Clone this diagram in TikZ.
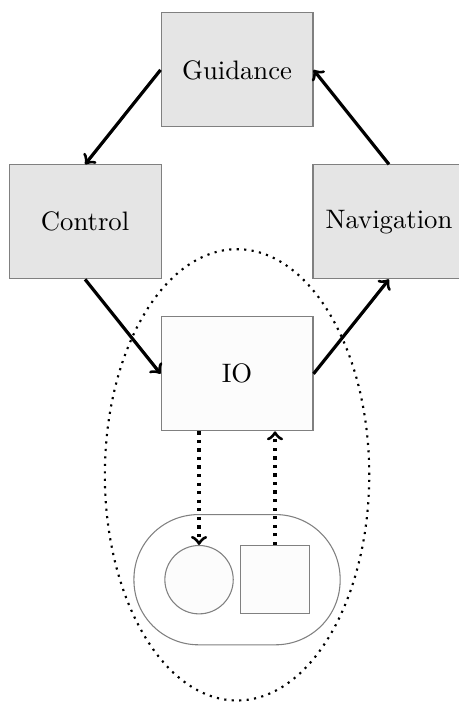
\documentclass[tikz,border=0pt]{standalone}
\usepackage{xcolor}
\usepackage{tikz}
\usetikzlibrary{shapes, arrows, positioning, fit}

\begin{document}
\begin{tikzpicture}[
    block/.style={draw=gray, fill=gray!20, minimum width=2cm, minimum height=1.5cm},
    part/.style={draw=gray, fill=gray!2, minimum size=0.9cm, inner sep=0pt},
    flow/.style={->, very thick},
    link/.style={->, very thick, dotted}
  ]
    \useasboundingbox (-3.12,0.92) rectangle (2.91,-8.32);

    % the loop
    \node [block] (guidance) at (0,0) {Guidance};
    \node [block] (control) at (-2,-2) {Control};
    \node [block] (navigation) at (2,-2) {Navigation};
    \node [block, fill=gray!2] (io) at (0,-4) {IO};

    % hardware below the IO block
    \node [part, circle] (disc) at (-0.5,-6.71) {};
    \node [part] (box) at (0.5,-6.71) {};
    \node [draw=gray, rounded corners=0.85cm, inner sep=0.4cm, fit=(disc) (box)] (unit) {};
    \node [draw, dotted, thick, ellipse, minimum width=3.48cm, minimum height=5.94cm] (hw) at (0,-5.33) {};

    \draw [flow] (guidance.west) -- (control.north);
    \draw [flow] (control.south) -- (io.west);
    \draw [flow] (io.east) -- (navigation.south);
    \draw [flow] (navigation.north) -- (guidance.east);

    \draw [link] (io.south -| disc) -- (disc.north);
    \draw [link] (box.north) -- (io.south -| box);
\end{tikzpicture}
\end{document}
